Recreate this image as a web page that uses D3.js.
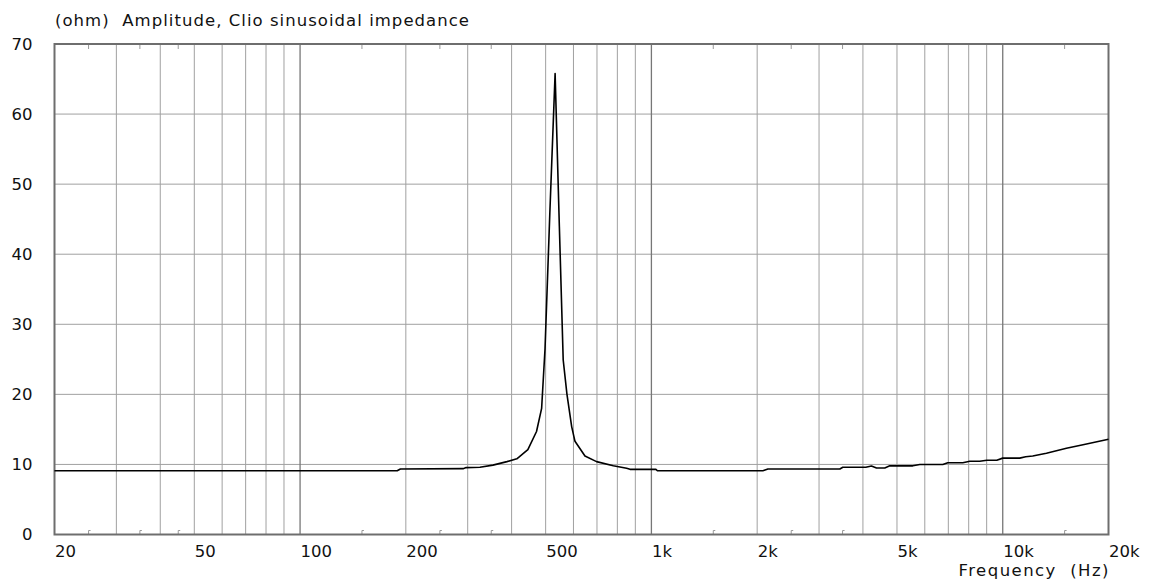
<!DOCTYPE html>
<html>
<head>
<meta charset="utf-8">
<script src="https://cdn.jsdelivr.net/npm/d3@7"></script>
<style>
	body { margin: 0; background: #fff; }
	text { font-family: "DejaVu Sans", Verdana, sans-serif; fill: #111; white-space: pre; }
</style>
</head>
<body>
<svg id="chart" width="1152" height="584"></svg>
<script>
// impedance curve (Hz, ohm)
const freqs = [20, 189, 193, 291, 297, 325, 354, 388, 414, 445, 471, 487, 498, 514, 532, 547, 561, 575, 593, 606,
	647, 698, 779, 850, 869, 1030, 1040, 2076, 2146, 3439, 3506, 4076, 4230, 4372, 4616, 4770, 5546, 5808, 6752,
	6975, 7697, 8057, 8602, 9007, 9618, 10000, 11178, 11626, 12172, 13314, 15180, 16926, 20000];
const ohms = [9.1, 9.1, 9.35, 9.4, 9.55, 9.6, 9.9, 10.4, 10.8, 12.1, 14.7, 18.0, 26.5, 46, 65.8, 44, 24.9, 20, 15.4, 13.3,
	11.2, 10.4, 9.8, 9.45, 9.3, 9.3, 9.1, 9.1, 9.35, 9.35, 9.6, 9.6, 9.78, 9.5, 9.5, 9.8, 9.8, 10.0, 10.0,
	10.25, 10.25, 10.45, 10.45, 10.6, 10.6, 10.9, 10.9, 11.1, 11.2, 11.6, 12.3, 12.8, 13.6];

const gridFreqs = [30, 40, 50, 60, 70, 80, 90, 200, 300, 400, 500, 600, 700, 800, 900,
	2000, 3000, 4000, 5000, 6000, 7000, 8000, 9000];
const decadeFreqs = [100, 1000, 10000];
const minorFreqs = [25, 35, 45, 150, 250, 350, 1500, 2500, 3500, 15000];
const xLabelFreqs = [20, 50, 100, 200, 500, 1000, 2000, 5000, 10000, 20000];
const xLabels = ['20', '50', '100', '200', '500', '1k', '2k', '5k', '10k', '20k'];
const yTicks = [0, 10, 20, 30, 40, 50, 60, 70];

const titleText = '(ohm)  Amplitude, Clio sinusoidal impedance';
const xTitle = 'Frequency  (Hz)';

const svg = d3.select('#chart');
const l = {x1: 54.5, x2: 1108.5, y1: 44, y2: 534.5};
const fontSize = '16.5px';

const x = d3.scaleLog().domain([20, 20000]).range([l.x1, l.x2]);
const y = d3.scaleLinear().domain([0, 70]).range([l.y2, l.y1]);

const gGrid = svg.append('g').attr('class', 'g_grid');

// horizontal grid
gGrid.selectAll('.hgrid')
	.data(yTicks.slice(1, -1)).enter()
	.append('line')
	.attr('class', 'hgrid')
	.attr('x1', l.x1).attr('x2', l.x2)
	.attr('y1', d => y(d)).attr('y2', d => y(d))
	.attr('stroke', '#a0a0a0').attr('stroke-width', 1);

// vertical grid
gGrid.selectAll('.vgrid')
	.data(gridFreqs).enter()
	.append('line')
	.attr('class', 'vgrid')
	.attr('x1', d => x(d)).attr('x2', d => x(d))
	.attr('y1', l.y1).attr('y2', l.y2)
	.attr('stroke', '#a0a0a0').attr('stroke-width', 1);

gGrid.selectAll('.dgrid')
	.data(decadeFreqs).enter()
	.append('line')
	.attr('class', 'dgrid')
	.attr('x1', d => x(d)).attr('x2', d => x(d))
	.attr('y1', l.y1).attr('y2', l.y2)
	.attr('stroke', '#777').attr('stroke-width', 1.3);

// little marks at the half steps, top and bottom
const gMinor = svg.append('g').attr('class', 'g_minor');
minorFreqs.forEach(f => {
	gMinor.append('path')
		.attr('d', `M${x(f)},${l.y1} v5`)
		.attr('stroke', '#999').attr('fill', 'none');
	gMinor.append('path')
		.attr('d', `M${x(f)},${l.y2} v-4 h2`)
		.attr('stroke', '#999').attr('fill', 'none');
});

// frame
svg.append('rect')
	.attr('x', l.x1).attr('y', l.y1)
	.attr('width', l.x2 - l.x1).attr('height', l.y2 - l.y1)
	.attr('fill', 'none').attr('stroke', '#6e6e6e').attr('stroke-width', 2);

// curve
const line = d3.line()
	.x((d, i) => x(freqs[i]))
	.y(d => y(d));

svg.append('path')
	.datum(ohms)
	.attr('d', line)
	.attr('fill', 'none')
	.attr('stroke', '#000')
	.attr('stroke-width', 1.6)
	.attr('stroke-linejoin', 'round');

// axes (labels only)
const xAxis = d3.axisBottom(x)
	.tickValues(xLabelFreqs)
	.tickFormat((d, i) => xLabels[i])
	.tickSize(0).tickPadding(0);
const gx = svg.append('g')
	.attr('transform', `translate(0,${l.y2})`)
	.call(xAxis);
gx.select('.domain').remove();
gx.selectAll('text')
	.attr('text-anchor', 'start')
	.attr('dy', null)
	.attr('y', 22.5)
	.style('font-size', fontSize)
	.style('font-family', '"DejaVu Sans", Verdana, sans-serif')
	.attr('fill', '#111');

const yAxis = d3.axisLeft(y)
	.tickValues(yTicks)
	.tickSize(0).tickPadding(22);
const gy = svg.append('g')
	.attr('transform', `translate(${l.x1},0)`)
	.call(yAxis);
gy.select('.domain').remove();
gy.selectAll('text')
	.style('font-size', fontSize)
	.style('font-family', '"DejaVu Sans", Verdana, sans-serif')
	.attr('fill', '#111');

svg.append('text')
	.attr('x', 55).attr('y', 26)
	.attr('textLength', 414)
	.attr('lengthAdjust', 'spacing')
	.style('font-size', fontSize)
	.text(titleText);

svg.append('text')
	.attr('x', l.x2 - 150).attr('y', 576)
	.attr('textLength', 150)
	.attr('lengthAdjust', 'spacing')
	.style('font-size', fontSize)
	.text(xTitle);
</script>
</body>
</html>
